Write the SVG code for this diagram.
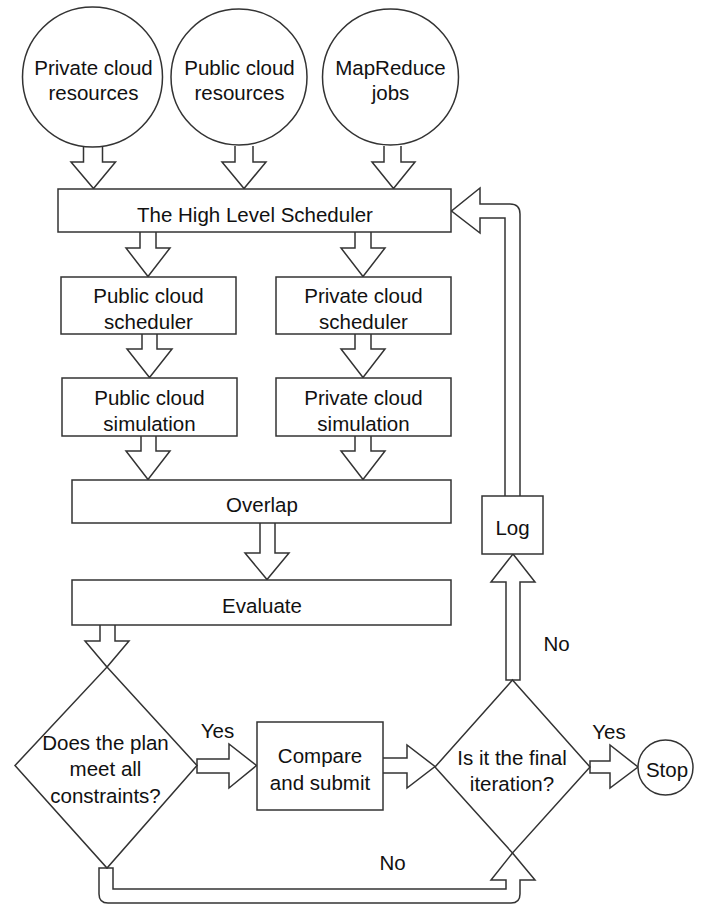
<svg xmlns="http://www.w3.org/2000/svg" width="708" height="906" viewBox="0 0 708 906">
<style>
.n{fill:#fff;stroke:#333;stroke-width:1.5}
.a{fill:#fff;stroke:#333;stroke-width:1.5;stroke-linejoin:miter}
text{font-family:"Liberation Sans",Arial,sans-serif;font-size:20.5px;fill:#111;text-anchor:middle}
</style>
<rect width="708" height="906" fill="#fff"/>
<g id="connectors">
<path class="a" d="M83.5 146 V162 H71 L93.5 188.5 L115.5 162 H102.5 V146"/>
<path class="a" d="M235 146 V162 H222 L244 188.5 L266 162 H253 V146"/>
<path class="a" d="M384 146 V162 H372 L393.5 188.5 L415 162 H401 V146"/>
<path class="a" d="M140 232 V248 H126 L148 276.5 L170 248 H156 V232"/>
<path class="a" d="M355 232 V248 H341 L363 276.5 L385 248 H371 V232"/>
<path class="a" d="M142 334 V349 H127 L149.5 377.5 L172 349 H157 V334"/>
<path class="a" d="M355 334 V349 H341 L363 377.5 L385 349 H371 V334"/>
<path class="a" d="M141 436 V451 H126 L148 479.5 L170 451 H156 V436"/>
<path class="a" d="M355 436 V451 H341 L363 479.5 L385 451 H371 V436"/>
<path class="a" d="M260 523 V553 H245 L267 579.5 L289 553 H275 V523"/>
<path class="a" d="M100 625 V641 H85 L107 667 L129 641 H115 V625"/>
<path class="a" d="M197 759 H229 V744 L256.5 765.5 L229 788 V773 H197 Z"/>
<path class="a" d="M383 758 H407 V745 L435 766.5 L407 788 V773 H383"/>
<path class="a" d="M590 761 H610 V745 L638 767 L610 788 V773 H590 Z"/>
<path class="a" d="M506 680 V582 H491 L513 554 L535 582 H520 V680 Z"/>
<path class="a" d="M520 496 V214 Q520 204 510 204 H480 V188 L451.5 211 L480 233 V218 H505 V496"/>
<path class="a" d="M99 868 V894 Q99 903 108 903 H511 Q520 903 520 894 V880 H535 L512.5 853 L491 880 H506 V889 H113 V868 Z"/>
</g>
<g id="n-private-res"><circle class="n" cx="92.5" cy="77" r="70"/><text x="93.5" y="75">Private cloud</text><text x="93.5" y="100">resources</text></g>
<g id="n-public-res"><circle class="n" cx="239" cy="77" r="68"/><text x="239.5" y="75">Public cloud</text><text x="239.5" y="100">resources</text></g>
<g id="n-mapreduce"><circle class="n" cx="390.5" cy="77" r="68"/><text x="390.5" y="75">MapReduce</text><text x="390.5" y="100">jobs</text></g>
<g id="n-hls"><rect class="n" x="58" y="189" width="393" height="43"/><text x="255" y="222">The High Level Scheduler</text></g>
<g id="n-pub-sched"><rect class="n" x="61" y="277" width="175" height="57"/><text x="148.5" y="303">Public cloud</text><text x="148.5" y="329">scheduler</text></g>
<g id="n-priv-sched"><rect class="n" x="276" y="277" width="175" height="57"/><text x="363.5" y="303">Private cloud</text><text x="363.5" y="329">scheduler</text></g>
<g id="n-pub-sim"><rect class="n" x="62" y="378" width="175" height="58"/><text x="149.5" y="405">Public cloud</text><text x="149.5" y="431">simulation</text></g>
<g id="n-priv-sim"><rect class="n" x="276" y="378" width="175" height="58"/><text x="363.5" y="405">Private cloud</text><text x="363.5" y="431">simulation</text></g>
<g id="n-overlap"><rect class="n" x="72" y="480" width="379" height="43"/><text x="262" y="512">Overlap</text></g>
<g id="n-evaluate"><rect class="n" x="72" y="580" width="379" height="45"/><text x="262" y="613">Evaluate</text></g>
<g id="n-constraints"><polygon class="n" points="107,667 197,765.5 107,868 15,765.5"/><text x="105.5" y="750">Does the plan</text><text x="105.5" y="776">meet all</text><text x="105.5" y="803">constraints?</text></g>
<g id="n-compare"><rect class="n" x="257" y="722" width="126" height="88"/><text x="320" y="763">Compare</text><text x="320" y="790">and submit</text></g>
<g id="n-final"><polygon class="n" points="512.5,680 590,767 512.5,853 435,767"/><text x="512" y="765">Is it the final</text><text x="512" y="791">iteration?</text></g>
<g id="n-stop"><circle class="n" cx="665.5" cy="767.5" r="27.5"/><text x="667" y="777">Stop</text></g>
<g id="n-log"><rect class="n" x="482" y="496" width="61" height="58"/><text x="512.5" y="535">Log</text></g>
<g id="labels">
<text x="217.5" y="738">Yes</text>
<text x="609" y="739">Yes</text>
<text x="556.5" y="651">No</text>
<text x="392.5" y="870">No</text>
</g>
</svg>
